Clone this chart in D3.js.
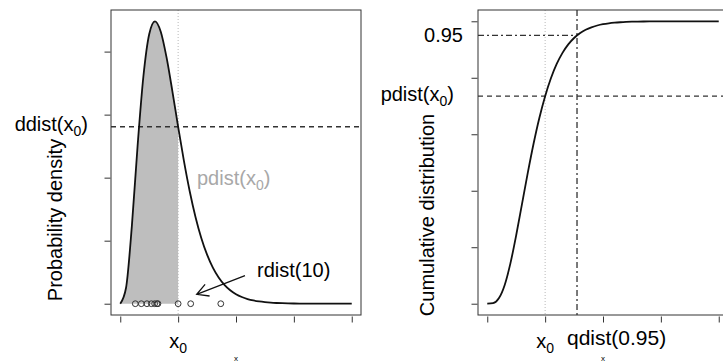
<!DOCTYPE html>
<html>
<head>
<meta charset="utf-8">
<script src="https://cdn.jsdelivr.net/npm/d3@7"></script>
<style>
  body { margin: 0; background: #fff; }
  svg { display: block; font-family: "Liberation Sans", Arial, sans-serif; }
</style>
</head>
<body>
<svg id="chart" width="723" height="362"></svg>
<script>
// grid of x values where the curves were read
const xs = [0,0.1,0.2,0.3,0.4,0.5,0.6,0.7,0.8,0.9,1.0,1.1,1.2,1.3,1.4,1.5,1.6,1.7,1.8,1.9,2.0,
            2.1,2.2,2.3,2.4,2.5,2.6,2.7,2.8,2.9,3.0,3.1,3.2,3.3,3.4,3.5,3.6,3.7,3.8,3.9,4.0];
// probability density
const density = [0,0.0632,0.3066,0.6276,0.9022,1.0688,1.1202,1.0789,0.9768,0.8436,0.7019,
                 0.5666,0.4462,0.3441,0.2607,0.1944,0.1431,0.1041,0.0750,0.0535,0.0378,
                 0.0266,0.0185,0.0128,0.0089,0.0061,0.0041,0.0028,0.0019,0.0013,0.0009,
                 0.0006,0.0004,0.0003,0.0002,0.0001,0.0001,0.00005,0.00003,0.00002,0.00001];
// cumulative distribution
const cumulative = [0,0.0018,0.0190,0.0656,0.1429,0.2424,0.3528,0.4634,0.5665,0.6577,0.7350,
                    0.7983,0.8488,0.8882,0.9182,0.9409,0.9576,0.9699,0.9788,0.9851,0.9897,
                    0.9929,0.9951,0.9966,0.9977,0.9985,0.9990,0.9993,0.9995,0.9997,0.9998,
                    0.9999,0.9999,0.9999,1,1,1,1,1,1,1];
// the 10 random draws shown as circles
const samples = [0.26,0.364,0.461,0.537,0.594,0.634,0.651,1.0,1.217,1.737];

const x0 = 1.0;
const ddistX0 = 0.702;
const pdistX0 = 0.735;
const p95 = 0.95;
const q95 = 1.551;

const xTicks = [0,1,2,3,4];
const densTicks = [0,0.25,0.5,0.75,1];
const cdfTicks = [0,0.2,0.4,0.6,0.8,1];

const svg = d3.select("#chart");
const FONT = 20;

// panel boxes (R style, 4% padding of data range)
const L = {left:111, right:361, top:10, bottom:315};
const R = {left:478, right:728, top:10, bottom:315};

const pad = (a,b)=>[a-(b-a)*0.04, b+(b-a)*0.04];

const xL = d3.scaleLinear().domain(pad(0,4)).range([L.left,L.right]);
const yL = d3.scaleLinear().domain(pad(0,d3.max(density))).range([L.bottom,L.top]);
const xR = d3.scaleLinear().domain(pad(0,4)).range([R.left,R.right]);
const yR = d3.scaleLinear().domain(pad(0,1)).range([R.bottom,R.top]);

const pts = (vals)=>xs.map((x,i)=>[x,vals[i]]);

// helper for text with subscript 0
const subText = (g, x, y, pre, post, anchor, color)=>{
  const t = g.append("text")
    .attr("x", x).attr("y", y)
    .attr("text-anchor", anchor)
    .attr("font-size", FONT)
    .attr("fill", color || "#000");
  t.append("tspan").text(pre);
  t.append("tspan").attr("dy", 5).attr("font-size", 14).text("0");
  if (post) t.append("tspan").attr("dy", -5).text(post);
  return t;
};

// ---------------- left panel ----------------
const gl = svg.append("g");

// shaded area up to x0
gl.append("path")
  .datum(pts(density).filter(d=>d[0]<=x0))
  .attr("fill", "#bebebe")
  .attr("d", d3.area().x(d=>xL(d[0])).y0(yL(0)).y1(d=>yL(d[1])).curve(d3.curveMonotoneX));

// dotted vertical at x0
gl.append("line")
  .attr("x1", xL(x0)).attr("x2", xL(x0))
  .attr("y1", L.top).attr("y2", L.bottom)
  .attr("stroke", "#b8b8b8").attr("stroke-dasharray", "1,2");

// dashed horizontal at ddist(x0)
gl.append("line")
  .attr("x1", L.left).attr("x2", L.right)
  .attr("y1", yL(ddistX0)).attr("y2", yL(ddistX0))
  .attr("stroke", "#333").attr("stroke-width", 1.3).attr("stroke-dasharray", "5,4");

// density curve
gl.append("path")
  .datum(pts(density))
  .attr("fill", "none").attr("stroke", "#111").attr("stroke-width", 1.8)
  .attr("d", d3.line().x(d=>xL(d[0])).y(d=>yL(d[1])).curve(d3.curveMonotoneX));

// sample points
gl.selectAll("circle.s")
  .data(samples)
  .enter()
  .append("circle")
    .attr("cx", d=>xL(d))
    .attr("cy", yL(0))
    .attr("r", 2.9)
    .attr("fill", "none")
    .attr("stroke", "#333")
    .attr("stroke-width", 1);

// box
gl.append("rect")
  .attr("x", L.left).attr("y", L.top)
  .attr("width", L.right-L.left).attr("height", L.bottom-L.top)
  .attr("fill", "none").attr("stroke", "#333").attr("stroke-width", 1);

// axes (ticks only)
const axL = gl.append("g")
  .attr("transform", "translate(" + (L.left-0.5) + ",0)")
  .call(d3.axisLeft(yL).tickValues(densTicks).tickFormat("").tickSize(6));
const axLb = gl.append("g")
  .attr("transform", "translate(0," + (L.bottom+1.5) + ")")
  .call(d3.axisBottom(xL).tickValues(xTicks).tickFormat("").tickSize(6));
[axL, axLb].forEach(a=>{
  a.select(".domain").remove();
  a.selectAll("line").attr("stroke", "#333");
});

// labels
subText(gl, 88, yL(ddistX0)+4.5, "ddist(x", ")", "end");
subText(gl, 197, 185, "pdist(x", ")", "start", "#a8a8a8");
gl.append("text")
  .attr("x", 257).attr("y", 277)
  .attr("font-size", FONT)
  .text("rdist(10)");
subText(gl, xL(x0)-9, 348, "x", null, "start");

gl.append("text")
  .attr("transform", "translate(62,220) rotate(-90)")
  .attr("text-anchor", "middle")
  .attr("font-size", FONT)
  .text("Probability density");
gl.append("text")
  .attr("x", (L.left+L.right)/2).attr("y", 361)
  .attr("text-anchor", "middle")
  .attr("font-size", 8)
  .text("x");

// arrow pointing at the samples
const aFrom = [xL(2.155), yL(0.111)];
const aTo = [xL(1.321), yL(0.0373)];
const ang = Math.atan2(aFrom[1]-aTo[1], aFrom[0]-aTo[0]);
const hl = 13;
gl.append("path")
  .attr("fill", "none").attr("stroke", "#111").attr("stroke-width", 1.3)
  .attr("d",
    "M" + aFrom + "L" + aTo +
    "M" + [aTo[0]+hl*Math.cos(ang+0.5), aTo[1]+hl*Math.sin(ang+0.5)] + "L" + aTo +
    "L" + [aTo[0]+hl*Math.cos(ang-0.5), aTo[1]+hl*Math.sin(ang-0.5)]);

// ---------------- right panel ----------------
const gr = svg.append("g");

gr.append("line")
  .attr("x1", xR(x0)).attr("x2", xR(x0))
  .attr("y1", R.top).attr("y2", R.bottom)
  .attr("stroke", "#b8b8b8").attr("stroke-dasharray", "1,2");

gr.append("line")
  .attr("x1", xR(q95)).attr("x2", xR(q95))
  .attr("y1", R.top).attr("y2", R.bottom)
  .attr("stroke", "#333").attr("stroke-width", 1.3).attr("stroke-dasharray", "6,3,2,3");

gr.append("line")
  .attr("x1", R.left).attr("x2", xR(q95))
  .attr("y1", yR(p95)).attr("y2", yR(p95))
  .attr("stroke", "#333").attr("stroke-width", 1.3).attr("stroke-dasharray", "6,3,2,3");

gr.append("line")
  .attr("x1", R.left).attr("x2", R.right)
  .attr("y1", yR(pdistX0)).attr("y2", yR(pdistX0))
  .attr("stroke", "#333").attr("stroke-width", 1.3).attr("stroke-dasharray", "5,4");

gr.append("path")
  .datum(pts(cumulative))
  .attr("fill", "none").attr("stroke", "#111").attr("stroke-width", 1.8)
  .attr("d", d3.line().x(d=>xR(d[0])).y(d=>yR(d[1])).curve(d3.curveMonotoneX));

gr.append("rect")
  .attr("x", R.left).attr("y", R.top)
  .attr("width", R.right-R.left).attr("height", R.bottom-R.top)
  .attr("fill", "none").attr("stroke", "#333").attr("stroke-width", 1);

const axR = gr.append("g")
  .attr("transform", "translate(" + (R.left-0.5) + ",0)")
  .call(d3.axisLeft(yR).tickValues(cdfTicks).tickFormat("").tickSize(6));
const axRb = gr.append("g")
  .attr("transform", "translate(0," + (R.bottom+1.5) + ")")
  .call(d3.axisBottom(xR).tickValues(xTicks).tickFormat("").tickSize(6));
[axR, axRb].forEach(a=>{
  a.select(".domain").remove();
  a.selectAll("line").attr("stroke", "#333");
});

gr.append("text")
  .attr("x", 463).attr("y", yR(p95)+7)
  .attr("text-anchor", "end")
  .attr("font-size", FONT)
  .text("0.95");
subText(gr, 454, yR(pdistX0)+4.5, "pdist(x", ")", "end");
subText(gr, xR(x0)-9, 348, "x", null, "start");
gr.append("text")
  .attr("x", 567).attr("y", 345)
  .attr("font-size", 21)
  .text("qdist(0.95)");

gr.append("text")
  .attr("transform", "translate(434,215) rotate(-90)")
  .attr("text-anchor", "middle")
  .attr("font-size", FONT)
  .text("Cumulative distribution");
gr.append("text")
  .attr("x", (R.left+R.right)/2).attr("y", 361)
  .attr("text-anchor", "middle")
  .attr("font-size", 8)
  .text("x");
</script>
</body>
</html>
